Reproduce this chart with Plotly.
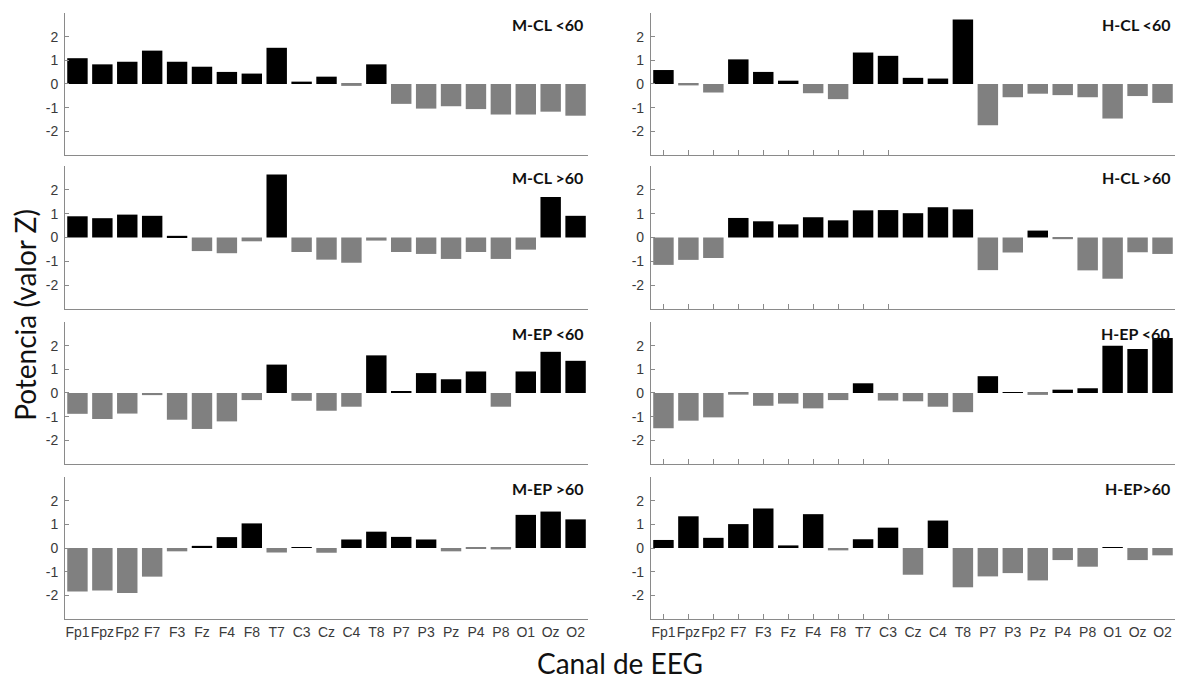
import plotly.graph_objects as go

channels = ["Fp1", "Fpz", "Fp2", "F7", "F3", "Fz", "F4", "F8", "T7", "C3", "Cz",
            "C4", "T8", "P7", "P3", "Pz", "P4", "P8", "O1", "Oz", "O2"]

m_cl_lt60 = [1.09, 0.83, 0.94, 1.41, 0.94, 0.73, 0.51, 0.44, 1.53, 0.10, 0.31,
             -0.08, 0.83, -0.84, -1.04, -0.94, -1.06, -1.29, -1.29, -1.17, -1.34]
h_cl_lt60 = [0.59, -0.06, -0.36, 1.04, 0.51, 0.14, -0.39, -0.64, 1.33, 1.19, 0.26,
             0.23, 2.73, -1.74, -0.56, -0.41, -0.47, -0.56, -1.46, -0.51, -0.80]
m_cl_gt60 = [0.89, 0.81, 0.96, 0.91, 0.07, -0.57, -0.66, -0.16, 2.64, -0.61, -0.93,
             -1.06, -0.13, -0.61, -0.69, -0.90, -0.61, -0.90, -0.51, 1.70, 0.91]
h_cl_gt60 = [-1.15, -0.94, -0.86, 0.82, 0.68, 0.55, 0.85, 0.72, 1.14, 1.15, 1.02,
             1.27, 1.18, -1.37, -0.63, 0.29, -0.07, -1.38, -1.73, -0.62, -0.69]
m_ep_lt60 = [-0.88, -1.10, -0.87, -0.09, -1.13, -1.52, -1.20, -0.30, 1.20, -0.33, -0.75,
             -0.58, 1.59, 0.07, 0.84, 0.58, 0.91, -0.58, 0.91, 1.74, 1.36]
h_ep_lt60 = [-1.49, -1.17, -1.03, -0.07, -0.54, -0.45, -0.65, -0.30, 0.41, -0.32, -0.35,
             -0.58, -0.81, 0.71, 0.01, -0.08, 0.14, 0.20, 2.00, 1.86, 2.32]
m_ep_gt60 = [-1.84, -1.80, -1.90, -1.21, -0.14, 0.09, 0.46, 1.04, -0.19, 0.03, -0.20,
             0.36, 0.69, 0.47, 0.36, -0.14, -0.03, -0.06, 1.40, 1.54, 1.21]
h_ep_gt60 = [0.34, 1.34, 0.43, 1.01, 1.67, 0.11, 1.43, -0.10, 0.37, 0.86, -1.13,
             1.16, -1.66, -1.20, -1.06, -1.37, -0.51, -0.79, 0.03, -0.51, -0.31]

panel_titles = ["M-CL <60", "H-CL <60", "M-CL >60", "H-CL >60",
                "M-EP <60", "H-EP <60", "M-EP >60", "H-EP>60"]
panel_values = [m_cl_lt60, h_cl_lt60, m_cl_gt60, h_cl_gt60,
                m_ep_lt60, h_ep_lt60, m_ep_gt60, h_ep_gt60]

y_tick_vals = [-3, -2, -1, 0, 1, 2, 3]
y_tick_text = ["", "-2", "-1", "0", "1", "2", ""]

POS = "#000000"
NEG = "#808080"
AXIS = "#8a8a8a"
TICKFONT = dict(family="Liberation Sans", size=14, color="#3a3a3a")

col_dom = [[0.0, 0.4712], [0.5279, 1.0]]
row_dom = [[0.7657, 1.0], [0.5116, 0.7475], [0.2558, 0.4901], [0.0, 0.2343]]


def sfx(n):
    return "" if n == 1 else str(n)


x_idx = list(range(len(channels)))
fig = go.Figure()
layout = {}
annotations = []
extra = 9
for i, (title, vals) in enumerate(zip(panel_titles, panel_values)):
    n = i + 1
    s = sfx(n)
    row, col = i // 2, i % 2
    fig.add_trace(go.Bar(
        x=x_idx, y=vals,
        marker=dict(color=[POS if v >= 0 else NEG for v in vals], line=dict(width=0)),
        width=0.82, xaxis=f"x{s}", yaxis=f"y{s}", showlegend=False,
    ))
    layout[f"xaxis{s}"] = dict(
        domain=col_dom[col], anchor=f"y{s}", range=[-0.5, 20.5],
        tickmode="array", tickvals=x_idx, ticktext=channels, tickangle=0,
        showticklabels=(row == 3), ticks="", showline=True, linecolor=AXIS,
        linewidth=1, showgrid=False, zeroline=False, tickfont=TICKFONT,
    )
    layout[f"yaxis{s}"] = dict(
        domain=row_dom[row], anchor=f"x{s}", range=[-3, 3],
        tickmode="array", tickvals=y_tick_vals, ticktext=y_tick_text,
        ticks="inside", ticklen=4, tickcolor=AXIS, showline=True, linecolor=AXIS,
        linewidth=1, showgrid=False, zeroline=False, tickfont=TICKFONT,
        ticklabelstandoff=3,
    )
    if col == 1:
        layout[f"xaxis{extra}"] = dict(
            overlaying=f"x{s}", anchor=f"y{s}", range=[-0.5, 20.5],
            tickmode="array", tickvals=x_idx[:10], ticks="inside", ticklen=5,
            tickcolor=AXIS, showticklabels=False, showline=False,
            showgrid=False, zeroline=False,
        )
        fig.add_trace(go.Scatter(x=[None], y=[None], xaxis=f"x{extra}", yaxis=f"y{s}",
                                 showlegend=False, hoverinfo="skip"))
        extra += 1
    annotations.append(dict(
        text=f"<b>{title}</b>", xref=f"x{s} domain", yref=f"y{s} domain",
        x=0.995, y=1.0, xanchor="right", yanchor="top", showarrow=False,
        font=dict(family="Lato, Open Sans, sans-serif", size=16, color="#111111"),
    ))

annotations.append(dict(
    text="Potencia (valor Z)", xref="paper", yref="paper", x=-0.036, y=0.502,
    xanchor="center", yanchor="middle", textangle=-90, showarrow=False,
    font=dict(family="Lato, Open Sans, sans-serif", size=28, color="#111111"),
))
annotations.append(dict(
    text="Canal de EEG", xref="paper", yref="paper", x=0.5, y=-0.072,
    xanchor="center", yanchor="middle", showarrow=False,
    font=dict(family="Lato, Open Sans, sans-serif", size=28, color="#111111"),
))

fig.update_layout(
    width=1180, height=680,
    margin=dict(l=65, r=5, t=13, b=61),
    paper_bgcolor="white", plot_bgcolor="white",
    bargap=0.18, annotations=annotations,
    **layout,
)

fig.write_html("out.html")
